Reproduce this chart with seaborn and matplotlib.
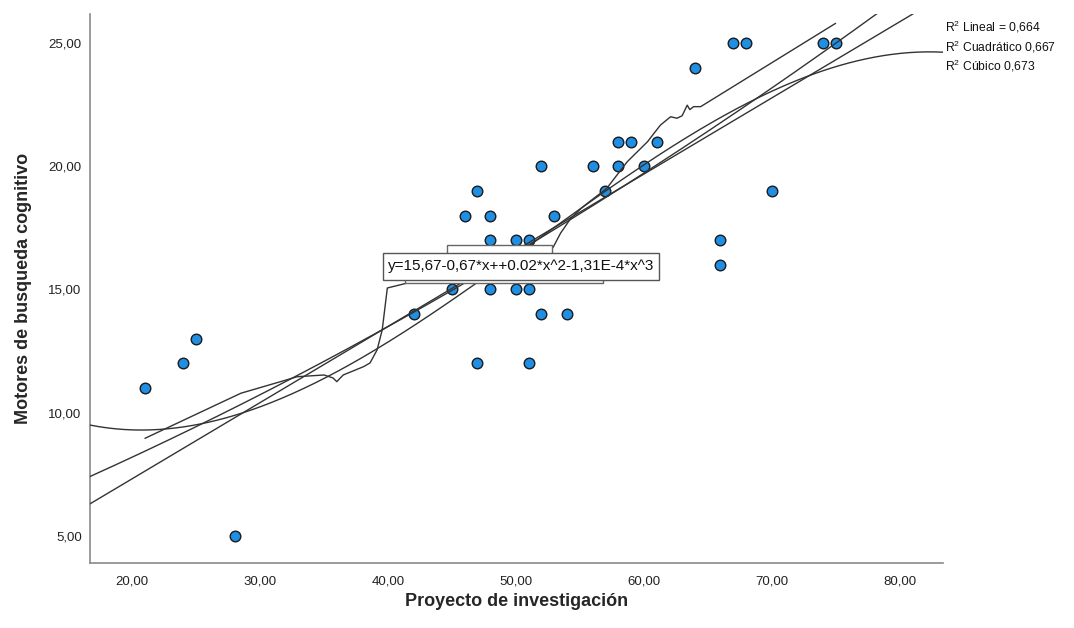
import numpy as np
import pandas as pd
import matplotlib
matplotlib.use("Agg")
import matplotlib.pyplot as plt
from matplotlib.patches import Rectangle
import seaborn as sns

# ---- data ----
proyecto = [21, 24, 25, 28, 42, 45, 46, 47, 47, 48, 48, 48, 50, 50, 51, 51, 51, 52,
            52, 53, 54, 56, 57, 58, 58, 59, 60, 61, 64, 66, 66, 67, 68, 70, 74, 75]
motores = [11, 12, 13, 5, 14, 15, 18, 19, 12, 18, 17, 15, 17, 15, 17, 15, 12, 20,
           14, 18, 14, 20, 19, 21, 20, 21, 20, 21, 24, 17, 16, 25, 25, 19, 25, 25]

# fitted curves (coefficients, constant term first)
coef_lineal = [1.14, 0.309]
coef_cuadratico = [3.82, 0.1957, 0.001154]
coef_cubico = [15.65, -0.67, 0.02025, -1.31e-4]

# local (loess-like) fit line
loess_x = [21.0, 28.5, 31.6, 32.9, 35.0, 35.7, 36.0, 36.5, 38.1, 38.6, 39.15, 39.55,
           39.95, 41.5, 47.0, 52.9, 53.5, 54.3, 55.1, 55.6, 57.1, 58.7, 60.3, 61.3,
           62.1, 62.6, 63.0, 63.4, 63.6, 63.9, 64.45, 75.0]
loess_y = [8.96, 10.79, 11.26, 11.46, 11.53, 11.41, 11.26, 11.53, 11.87, 12.02, 12.55,
           13.36, 15.06, 15.26, 15.9, 16.7, 17.29, 17.89, 18.29, 18.5, 19.1, 20.18,
           21.0, 21.67, 22.01, 21.95, 22.05, 22.48, 22.3, 22.42, 22.42, 25.8]

x_ticks = [20, 30, 40, 50, 60, 70, 80]
y_ticks = [5, 10, 15, 20, 25]
r2_labels = ["Lineal = 0,664", "Cuadrático 0,667", "Cúbico 0,673"]
equation = "y=15,67-0,67*x++0.02*x^2-1,31E-4*x^3"

XMIN, XMAX = 16.7, 83.4
YMIN, YMAX = 3.9, 26.18

df = pd.DataFrame({"proyecto": proyecto, "motores": motores})
dl = pd.DataFrame({"x": loess_x, "y": loess_y})
grid = np.linspace(XMIN, XMAX, 300)
fits = pd.concat([
    pd.DataFrame({"x": grid, "y": np.polyval(c[::-1], grid), "fit": name})
    for name, c in (("lineal", coef_lineal), ("cuadratico", coef_cuadratico),
                    ("cubico", coef_cubico))
])

sns.set_theme(style="white")
plt.rcParams["font.family"] = ["Liberation Sans", "DejaVu Sans"]
plt.rcParams["mathtext.fontset"] = "custom"
plt.rcParams["mathtext.rm"] = "Liberation Sans"

fig = plt.figure(figsize=(10.74, 6.28), dpi=100)
ax = fig.add_axes([90 / 1074, 1 - 563 / 628, (943 - 90) / 1074, (563 - 14) / 628])

line_kw = dict(color="#333333", lw=1.0, zorder=4)
sns.scatterplot(data=df, x="proyecto", y="motores", ax=ax, color="#1f8fe3",
                edgecolor="#1a1a1a", linewidth=1.0, s=58, zorder=3, legend=False)
for name, g in fits.groupby("fit"):
    sns.lineplot(data=g, x="x", y="y", ax=ax, sort=False, estimator=None, **line_kw)
sns.lineplot(data=dl, x="x", y="y", ax=ax, sort=False, estimator=None, **line_kw)

ax.set_xlim(XMIN, XMAX)
ax.set_ylim(YMIN, YMAX)

# label boxes
ax.add_patch(Rectangle((44.65, 15.9), 52.86 - 44.65, 16.8 - 15.9, fc="white",
                       ec="#666666", lw=1.0, zorder=6))
ax.add_patch(Rectangle((41.36, 15.26), 56.78 - 41.36, 16.2 - 15.26, fc="white",
                       ec="#666666", lw=1.0, zorder=6))
ax.add_patch(Rectangle((39.64, 15.39), 61.16 - 39.64, 16.48 - 15.39, fc="white",
                       ec="#555555", lw=1.0, zorder=7))
ax.text((39.64 + 61.16) / 2, (15.39 + 16.48) / 2, equation, ha="center", va="center",
        fontsize=11, color="#111111", zorder=8)

ax.set_xticks(x_ticks)
ax.set_yticks(y_ticks)
ax.set_xticklabels([f"{v:.2f}".replace(".", ",") for v in x_ticks])
ax.set_yticklabels([f"{v:.2f}".replace(".", ",") for v in y_ticks])
ax.tick_params(axis="both", length=0, labelsize=9.5, colors="#222222")
ax.tick_params(axis="x", pad=9)
ax.tick_params(axis="y", pad=6)
ax.set_xlabel("Proyecto de investigación", fontsize=13, fontweight="bold", labelpad=4)
ax.set_ylabel("Motores de busqueda cognitivo", fontsize=13, fontweight="bold", labelpad=12)
for s in ("top", "right"):
    ax.spines[s].set_visible(False)
for s in ("left", "bottom"):
    ax.spines[s].set_color("#8a8a8a")
    ax.spines[s].set_linewidth(1.2)
ax.grid(False)

for i, lab in enumerate(r2_labels):
    fig.text(945 / 1074, 1 - (27 + i * 19.5) / 628, r"$\mathregular{R^2}$ " + lab,
             fontsize=8.7, va="center", ha="left", color="#111111")

fig.savefig("out.png", dpi=100)
